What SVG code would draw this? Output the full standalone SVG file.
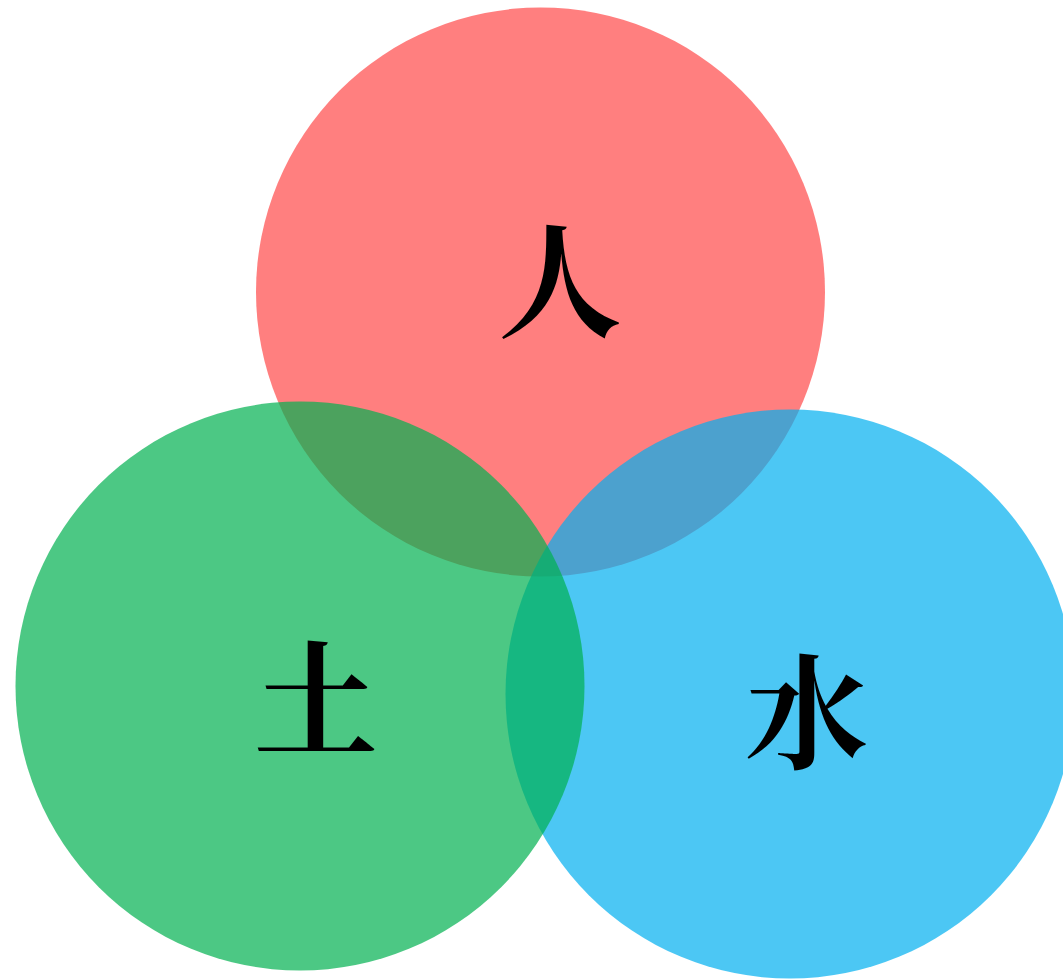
<svg xmlns="http://www.w3.org/2000/svg" width="1063" height="979" viewBox="0 0 1063 979">
<style>
.lbl{font-family:"Noto Serif CJK SC","Noto Sans CJK SC",serif;font-weight:700;font-size:124px;fill:#000;text-anchor:middle}
</style>
<rect width="1063" height="979" fill="#fff"/>
<g id="ren">
<circle cx="540.5" cy="292" r="284.5" fill="#FF0000" fill-opacity="0.5"/>
</g>
<g id="shui">
<circle cx="790" cy="694" r="284.5" fill="#00AFEF" fill-opacity="0.7"/>
</g>
<g id="tu">
<circle cx="300" cy="686" r="284.5" fill="#00B050" fill-opacity="0.7"/>
</g>
<g id="labels">
<text class="lbl" x="560" y="328">人</text>
<text class="lbl" x="316" y="746">土</text>
<text class="lbl" x="807" y="759">水</text>
</g>
</svg>
